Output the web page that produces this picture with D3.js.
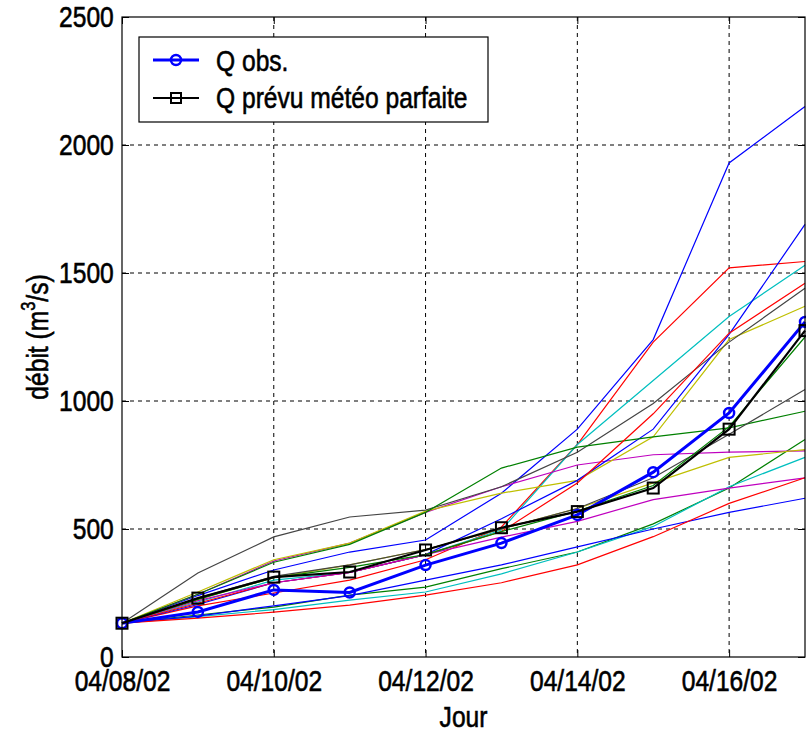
<!DOCTYPE html>
<html>
<meta charset="utf-8">
<head>
<style>
body { margin: 0; background: #fff; }
text {
  font-family: "Liberation Sans", Arial, Helvetica, sans-serif;
  font-size: 30px;
  fill: #000;
  stroke: #000;
  stroke-width: 0.6px;
}
.grid line {
  stroke: #000;
  stroke-width: 1;
  stroke-dasharray: 4,4;
}
.axis path { display: none; }
.axis line { stroke: #000; }
.members path {
  fill: none;
  stroke-width: 1.2;
}
</style>
</head>
<body>
<svg width="806" height="734"></svg>

<script src="https://cdn.jsdelivr.net/npm/d3@7/dist/d3.min.js"></script>

<script>

// jours de prevision (mm/dd/yy)
var jours = ["04/08/02","04/09/02","04/10/02","04/11/02","04/12/02",
             "04/13/02","04/14/02","04/15/02","04/16/02","04/17/02"];
var xTickLabels = ["04/08/02","04/10/02","04/12/02","04/14/02","04/16/02"];
var yTicks = [0, 500, 1000, 1500, 2000, 2500];

// debits observes et prevus meteo parfaite (m3/s)
var qObs   = [132, 176, 262, 252, 359, 445, 555, 722, 953, 1309];
var qPrevu = [132, 230, 312, 332, 418, 505, 568, 660, 890, 1275];

// membres de l'ensemble
var ensB1 = [132, 240, 340, 410, 457, 640, 890, 1240, 1930, 2150];
var ensB2 = [132, 205, 290, 330, 400, 540, 690, 890, 1260, 1690];
var ensB3 = [132, 160, 200, 240, 300, 360, 430, 500, 565, 620];
var ensR1 = [132, 200, 250, 300, 380, 508, 830, 1230, 1520, 1545];
var ensR2 = [132, 210, 290, 330, 400, 490, 680, 950, 1265, 1460];
var ensR3 = [132, 152, 175, 203, 242, 290, 360, 470, 600, 700];
var ensC1 = [132, 215, 300, 330, 400, 496, 830, 1080, 1330, 1530];
var ensC2 = [132, 158, 185, 222, 254, 325, 410, 510, 665, 780];
var ensG1 = [132, 164, 195, 242, 273, 345, 410, 520, 660, 850];
var ensG2 = [132, 245, 370, 440, 565, 738, 820, 860, 895, 960];
var ensG3 = [132, 225, 310, 350, 400, 490, 570, 670, 900, 1250];
var ensM1 = [132, 245, 375, 445, 565, 665, 750, 790, 800, 805];
var ensM2 = [132, 220, 290, 330, 400, 468, 530, 615, 660, 700];
var ensY1 = [132, 254, 380, 445, 570, 640, 690, 860, 1240, 1370];
var ensY2 = [132, 225, 310, 360, 420, 500, 580, 680, 780, 810];
var ensK1 = [132, 328, 469, 547, 574, 665, 800, 990, 1230, 1440];
var ensK2 = [132, 230, 315, 360, 420, 500, 580, 700, 870, 1045];

var members = [
  {color: "#0000ff", values: ensB1},
  {color: "#008000", values: ensG1},
  {color: "#ff0000", values: ensR1},
  {color: "#00bfbf", values: ensC1},
  {color: "#bf00bf", values: ensM1},
  {color: "#bfbf00", values: ensY1},
  {color: "#444444", values: ensK1},
  {color: "#0000ff", values: ensB2},
  {color: "#008000", values: ensG2},
  {color: "#ff0000", values: ensR2},
  {color: "#00bfbf", values: ensC2},
  {color: "#bf00bf", values: ensM2},
  {color: "#bfbf00", values: ensY2},
  {color: "#444444", values: ensK2},
  {color: "#0000ff", values: ensB3},
  {color: "#008000", values: ensG3},
  {color: "#ff0000", values: ensR3}
];

var parseJour = d3.timeParse("%m/%d/%y"),
    formatJour = d3.timeFormat("%m/%d/%y");

var dates = jours.map(parseJour);

// police etroite (comme Helvetica de matlab)
var squeeze = "scale(0.82,1)";

var svg = d3.select("svg"),
    pLeft = 122, pRight = 805, pTop = 17, pBottom = 657;

var x = d3.scaleTime()
    .domain([dates[0], dates[dates.length - 1]])
    .range([pLeft, pRight]);

var y = d3.scaleLinear()
    .domain([0, 2500])
    .range([pBottom, pTop]);

var xTicks = xTickLabels.map(parseJour);

// grille en pointilles
var grid = svg.append("g").attr("class", "grid");
grid.selectAll("line.v")
    .data(xTicks.slice(1))
  .enter().append("line")
    .attr("class", "v")
    .attr("x1", function(d) { return x(d); })
    .attr("x2", function(d) { return x(d); })
    .attr("y1", pTop)
    .attr("y2", pBottom);
grid.selectAll("line.h")
    .data(yTicks.slice(1, -1))
  .enter().append("line")
    .attr("class", "h")
    .attr("x1", pLeft)
    .attr("x2", pRight)
    .attr("y1", function(d) { return y(d); })
    .attr("y2", function(d) { return y(d); });

// axes (graduations vers l'interieur)
svg.append("g")
    .attr("class", "axis")
    .attr("transform", "translate(0," + pBottom + ")")
    .call(d3.axisBottom(x).tickValues(xTicks).tickFormat(formatJour)
        .tickSizeInner(-7).tickSizeOuter(0).tickPadding(13));

svg.append("g")
    .attr("class", "axis")
    .attr("transform", "translate(0," + pTop + ")")
    .call(d3.axisTop(x).tickValues(xTicks).tickFormat("")
        .tickSizeInner(-7).tickSizeOuter(0));

svg.append("g")
    .attr("class", "axis")
    .attr("transform", "translate(" + pLeft + ",0)")
    .call(d3.axisLeft(y).tickValues(yTicks).tickFormat(d3.format("d"))
        .tickSizeInner(-7).tickSizeOuter(0).tickPadding(10));

svg.append("g")
    .attr("class", "axis")
    .attr("transform", "translate(" + pRight + ",0)")
    .call(d3.axisRight(y).tickValues(yTicks).tickFormat("")
        .tickSizeInner(-7).tickSizeOuter(0));

svg.selectAll(".axis text")
    .attr("font-size", null)
    .attr("font-family", null)
    .attr("fill", "#000")
    .attr("transform", squeeze);

var line = d3.line()
    .x(function(d, i) { return x(dates[i]); })
    .y(function(d) { return y(d); });

// membres
svg.append("g")
    .attr("class", "members")
  .selectAll("path")
    .data(members)
  .enter().append("path")
    .attr("stroke", function(d) { return d.color; })
    .attr("d", function(d) { return line(d.values); });

// Q obs.
svg.append("path")
    .attr("d", line(qObs))
    .attr("fill", "none")
    .attr("stroke", "#0000ff")
    .attr("stroke-width", 3);

svg.append("g")
  .selectAll("circle")
    .data(qObs)
  .enter().append("circle")
    .attr("cx", function(d, i) { return x(dates[i]); })
    .attr("cy", function(d) { return y(d); })
    .attr("r", 5)
    .attr("fill", "none")
    .attr("stroke", "#0000ff")
    .attr("stroke-width", 2.5);

// Q prevu meteo parfaite
svg.append("path")
    .attr("d", line(qPrevu))
    .attr("fill", "none")
    .attr("stroke", "#000")
    .attr("stroke-width", 2.2);

svg.append("g")
  .selectAll("rect")
    .data(qPrevu)
  .enter().append("rect")
    .attr("x", function(d, i) { return x(dates[i]) - 5.5; })
    .attr("y", function(d) { return y(d) - 5.5; })
    .attr("width", 11)
    .attr("height", 11)
    .attr("fill", "none")
    .attr("stroke", "#000")
    .attr("stroke-width", 2);

// cadre
svg.append("rect")
    .attr("x", pLeft)
    .attr("y", pTop)
    .attr("width", pRight - pLeft)
    .attr("height", pBottom - pTop)
    .attr("fill", "none")
    .attr("stroke", "#000")
    .attr("stroke-width", 1.2);

// legende
var legend = svg.append("g");
legend.append("rect")
    .attr("x", 139).attr("y", 37)
    .attr("width", 349).attr("height", 85)
    .attr("fill", "#fff")
    .attr("stroke", "#000")
    .attr("stroke-width", 1.2);

legend.append("line")
    .attr("x1", 153).attr("x2", 199).attr("y1", 60).attr("y2", 60)
    .attr("stroke", "#0000ff").attr("stroke-width", 3);
legend.append("circle")
    .attr("cx", 176).attr("cy", 60).attr("r", 5)
    .attr("fill", "none").attr("stroke", "#0000ff").attr("stroke-width", 2.5);
legend.append("text")
    .attr("transform", "translate(216,71) " + squeeze)
    .text("Q obs.");

legend.append("line")
    .attr("x1", 153).attr("x2", 199).attr("y1", 98).attr("y2", 98)
    .attr("stroke", "#000").attr("stroke-width", 2.2);
legend.append("rect")
    .attr("x", 171).attr("y", 93).attr("width", 10).attr("height", 10)
    .attr("fill", "none").attr("stroke", "#000").attr("stroke-width", 2);
legend.append("text")
    .attr("transform", "translate(216,108) " + squeeze)
    .text("Q prévu météo parfaite");

// titres des axes
svg.append("text")
    .attr("transform", "translate(" + (pLeft + pRight) / 2 + ",727) " + squeeze)
    .attr("text-anchor", "middle")
    .text("Jour");

var ylab = svg.append("text")
    .attr("transform", "translate(48,337) rotate(-90) " + squeeze)
    .attr("text-anchor", "middle");
ylab.append("tspan").text("débit (m");
ylab.append("tspan").attr("dy", -13).style("font-size", "20px").text("3");
ylab.append("tspan").attr("dy", 13).text("/s)");

</script>
</body>

</html>
